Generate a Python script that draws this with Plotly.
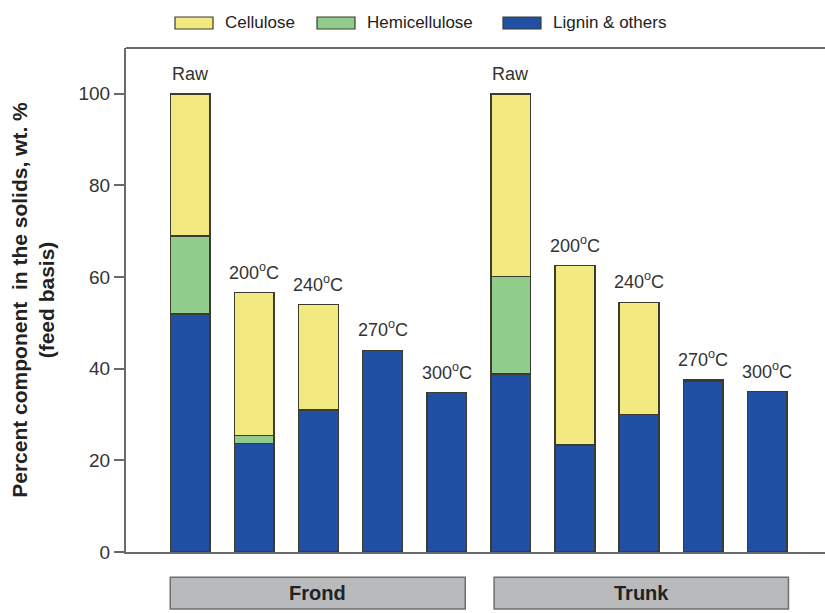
import plotly.graph_objects as go

positions = list(range(10))
bar_labels = ["Raw", "200<sup>o</sup>C", "240<sup>o</sup>C", "270<sup>o</sup>C", "300<sup>o</sup>C",
              "Raw", "200<sup>o</sup>C", "240<sup>o</sup>C", "270<sup>o</sup>C", "300<sup>o</sup>C"]
lignin = [52, 23.7, 31, 44, 34.8, 38.8, 23.3, 30, 37.3, 35]
hemicellulose = [17, 1.7, 0, 0, 0, 21.3, 0, 0, 0, 0]
cellulose = [31, 31.2, 23, 0, 0, 39.9, 39.2, 24.5, 0.3, 0]
groups = ["Frond", "Trunk"]
group_spans = [(0, 4), (5, 9)]
yticks = [0, 20, 40, 60, 80, 100]

colors = {"Cellulose": "#f2ea80", "Hemicellulose": "#90cd8c", "Lignin & others": "#1f50a4"}
outline = "#3b3b2e"
FONT = "Liberation Sans, Arial"

fig = go.Figure()
series = [("Lignin & others", lignin), ("Hemicellulose", hemicellulose), ("Cellulose", cellulose)]
for name, vals in series:
    fig.add_trace(go.Bar(x=positions, y=vals, name=name, width=0.62,
                         marker=dict(color=colors[name], line=dict(color=outline, width=1.5)),
                         showlegend=False))

totals = [a + b + c for a, b, c in zip(lignin, hemicellulose, cellulose)]
for xp, lab, t in zip(positions, bar_labels, totals):
    fig.add_annotation(x=xp, y=t, text=lab, showarrow=False, yanchor="bottom", yshift=8,
                       font=dict(size=18, color="#333333", family=FONT))

# group boxes under the axis
for g, (a, b) in zip(groups, group_spans):
    x0 = a - 0.31 if a == 0 else a - 0.26
    x1 = b + 0.29 if a == 0 else b + 0.33
    fig.add_shape(type="rect", xref="x", yref="paper", x0=x0, x1=x1, y0=-0.113, y1=-0.05,
                  fillcolor="#b9babc", line=dict(color="#6f6f6f", width=1.5))
    fig.add_annotation(x=(x0 + x1) / 2, xref="x", y=-0.0815, yref="paper", yanchor="middle",
                       text="<b>" + g + "</b>", showarrow=False,
                       font=dict(size=20, color="#222222", family=FONT))

# custom legend (pixel positions converted to paper coordinates)
legend_items = [("Cellulose", 175), ("Hemicellulose", 317), ("Lignin & others", 503)]
for name, px in legend_items:
    fig.add_shape(type="rect", xref="paper", yref="paper",
                  x0=(px - 126) / 699, x1=(px + 38 - 126) / 699,
                  y0=(552 - 29) / 504, y1=(552 - 17) / 504,
                  fillcolor=colors[name], line=dict(color=outline, width=1.2))
    fig.add_annotation(xref="paper", yref="paper", x=(px + 48 - 126) / 699, y=(552 - 23) / 504,
                       text=name, showarrow=False, xanchor="left", yanchor="middle",
                       font=dict(size=17, color="#222222", family=FONT))

fig.update_layout(
    width=825, height=613,
    margin=dict(l=126, r=0, t=48, b=61),
    plot_bgcolor="white", paper_bgcolor="white",
    barmode="stack", bargap=0.38,
    font=dict(family=FONT, size=18, color="#333333"),
)
fig.update_xaxes(range=[-1, 9.9], showticklabels=False, ticks="", showgrid=False, zeroline=False,
                 showline=True, linecolor="#6a6a6a", linewidth=2, mirror=False)
fig.update_yaxes(range=[0, 110], tickvals=yticks, ticks="outside", ticklen=10, tickwidth=1.5,
                 tickcolor="#6a6a6a", showgrid=False, zeroline=False, showline=True,
                 linecolor="#6a6a6a", linewidth=2,
                 tickfont=dict(size=19, color="#333333"),
                 title=dict(text="<b>Percent component  in the solids, wt. %<br>(feed basis)</b>",
                            font=dict(size=21, color="#222222"), standoff=18))
# top border line
fig.add_shape(type="line", xref="paper", yref="paper", x0=0, x1=1, y0=1, y1=1,
              line=dict(color="#6a6a6a", width=2))

fig.write_html("out.html")
